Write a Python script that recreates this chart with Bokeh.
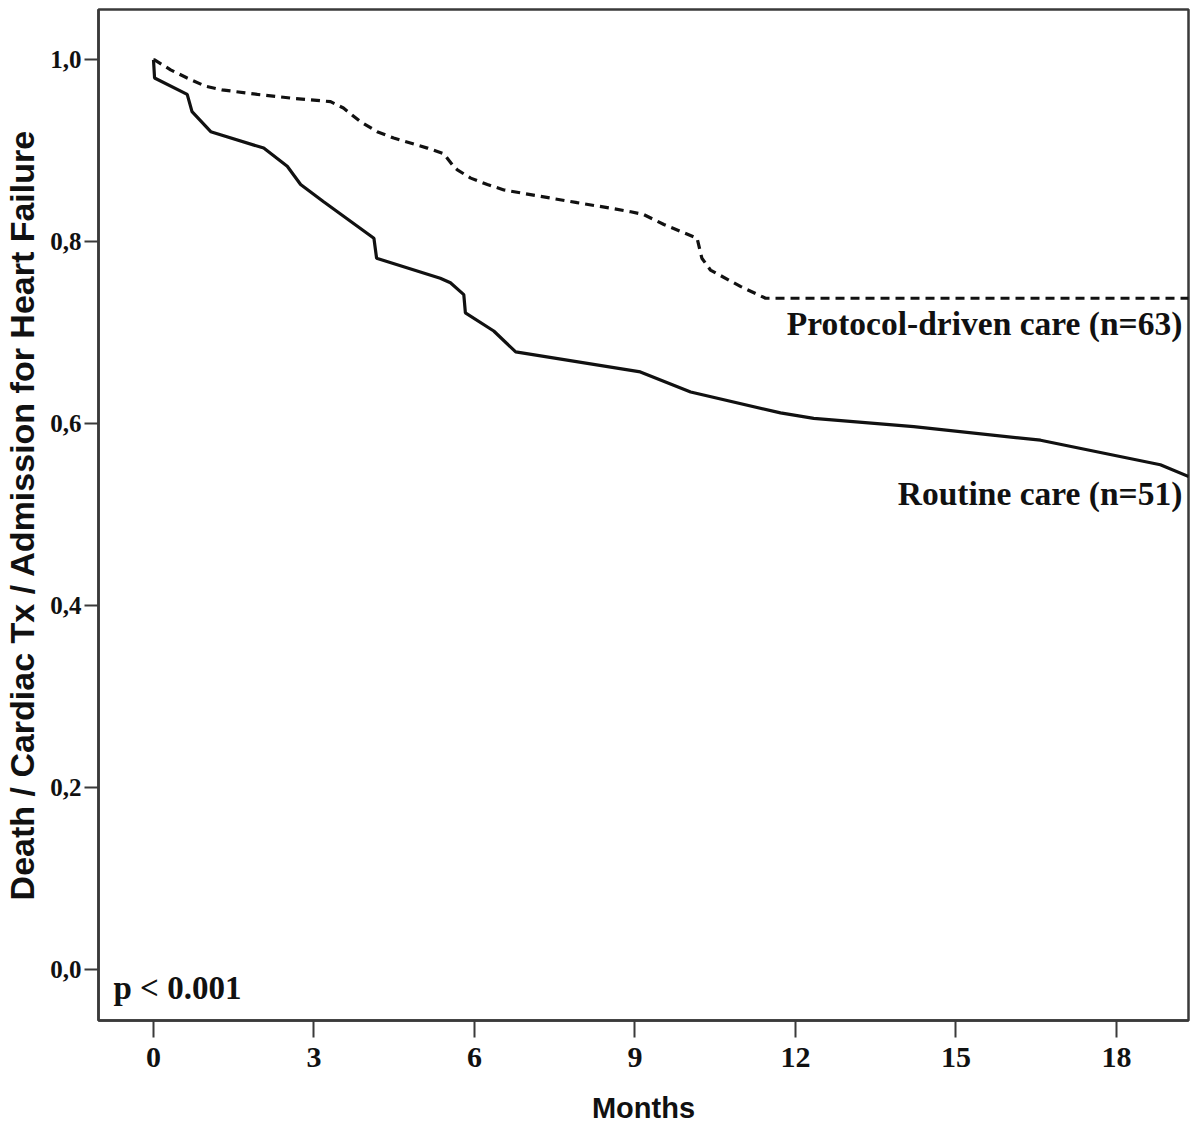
from bokeh.plotting import figure
from bokeh.models import FixedTicker, Label
from bokeh.embed import file_html
from bokeh.resources import INLINE

# ---- data ----
protocol_months = [0, 0.02, 0.32, 0.63, 0.97, 1.28, 1.94, 2.56, 3.31, 3.55, 3.87, 4.18, 4.49,
                   5.12, 5.42, 5.61, 5.68, 5.93, 6.24, 6.55, 7.23, 7.92, 8.54, 8.92, 9.16,
                   9.54, 10.16, 10.25, 10.41, 10.97, 11.44, 19.35]
protocol_surv = [1.0, 1.0, 0.989, 0.980, 0.971, 0.967, 0.962, 0.958, 0.954, 0.947, 0.932, 0.921,
                 0.914, 0.903, 0.897, 0.883, 0.879, 0.870, 0.863, 0.857, 0.850, 0.843, 0.837,
                 0.833, 0.830, 0.819, 0.804, 0.782, 0.769, 0.751, 0.738, 0.738]

routine_months = [0, 0.02, 0.63, 0.72, 1.07, 2.06, 2.50, 2.75, 3.18, 4.12, 4.17, 5.36, 5.55,
                  5.80, 5.83, 6.36, 6.77, 9.10, 10.04, 11.72, 12.34, 14.21, 16.58, 18.82, 19.35]
routine_surv = [1.0, 0.98, 0.962, 0.943, 0.921, 0.903, 0.883, 0.863, 0.844, 0.804, 0.782, 0.760,
                0.755, 0.742, 0.722, 0.702, 0.679, 0.657, 0.635, 0.612, 0.606, 0.597, 0.582,
                0.555, 0.542]

x_ticks = [0, 3, 6, 9, 12, 15, 18]
y_ticks = [0.0, 0.2, 0.4, 0.6, 0.8, 1.0]
y_tick_labels = ["0,0", "0,2", "0,4", "0,6", "0,8", "1,0"]

protocol_label = "Protocol-driven care (n=63)"
routine_label = "Routine care (n=51)"
p_label = "p < 0.001"

FRAME = "#3a3a3a"

p = figure(width=1190, height=1130, output_backend="svg", toolbar_location=None,
           x_range=(-1.028, 19.346), y_range=(-0.0557, 1.0553),
           min_border_left=98, min_border_right=2, min_border_top=9, min_border_bottom=110)

p.grid.visible = False
p.background_fill_color = "white"
p.border_fill_color = "white"
p.outline_line_color = FRAME
p.outline_line_width = 2.5

p.line(protocol_months, protocol_surv, line_color="#111111", line_width=3.2,
       line_dash="9 6")
p.line(routine_months, routine_surv, line_color="#111111", line_width=3.2)

# axes
p.xaxis.ticker = FixedTicker(ticks=x_ticks)
p.yaxis.ticker = FixedTicker(ticks=y_ticks)
p.yaxis.major_label_overrides = {t: l for t, l in zip(y_ticks, y_tick_labels)}
for ax in (p.xaxis, p.yaxis):
    ax.axis_line_color = FRAME
    ax.axis_line_width = 2.5
    ax.major_tick_line_color = FRAME
    ax.major_tick_line_width = 2
    ax.major_tick_in = 0
    ax.minor_tick_line_color = None
    ax.major_label_text_font = "Liberation Serif"
    ax.major_label_text_font_style = "bold"
    ax.major_label_text_color = "#111111"
    ax.axis_label_text_font = "Liberation Sans"
    ax.axis_label_text_font_style = "bold"
    ax.axis_label_text_color = "#111111"

p.xaxis.major_tick_out = 17
p.xaxis.major_label_text_font_size = "30px"
p.xaxis.major_label_standoff = 10
p.xaxis.axis_label = "Months"
p.xaxis.axis_label_text_font_size = "29px"
p.xaxis.axis_label_standoff = 22

p.yaxis.major_tick_out = 14
p.yaxis.major_label_text_font_size = "25px"
p.yaxis.major_label_standoff = 3
p.yaxis.axis_label = "Death / Cardiac Tx / Admission for Heart Failure"
p.yaxis.axis_label_text_font_size = "34px"
p.yaxis.axis_label_standoff = 6

# annotations
p.add_layout(Label(x=19.23, y=0.710, text=protocol_label, text_align="right",
                   text_baseline="alphabetic", text_font="Liberation Serif",
                   text_font_style="bold", text_font_size="33.5px", text_color="#111111"))
p.add_layout(Label(x=19.23, y=0.523, text=routine_label, text_align="right",
                   text_baseline="alphabetic", text_font="Liberation Serif",
                   text_font_style="bold", text_font_size="33.5px", text_color="#111111"))
p.add_layout(Label(x=-0.748, y=-0.020, text=p_label, text_align="left",
                   text_baseline="alphabetic", text_font="Liberation Serif",
                   text_font_style="bold", text_font_size="33px", text_color="#111111"))

open("out.html", "w").write(file_html(p, INLINE))
